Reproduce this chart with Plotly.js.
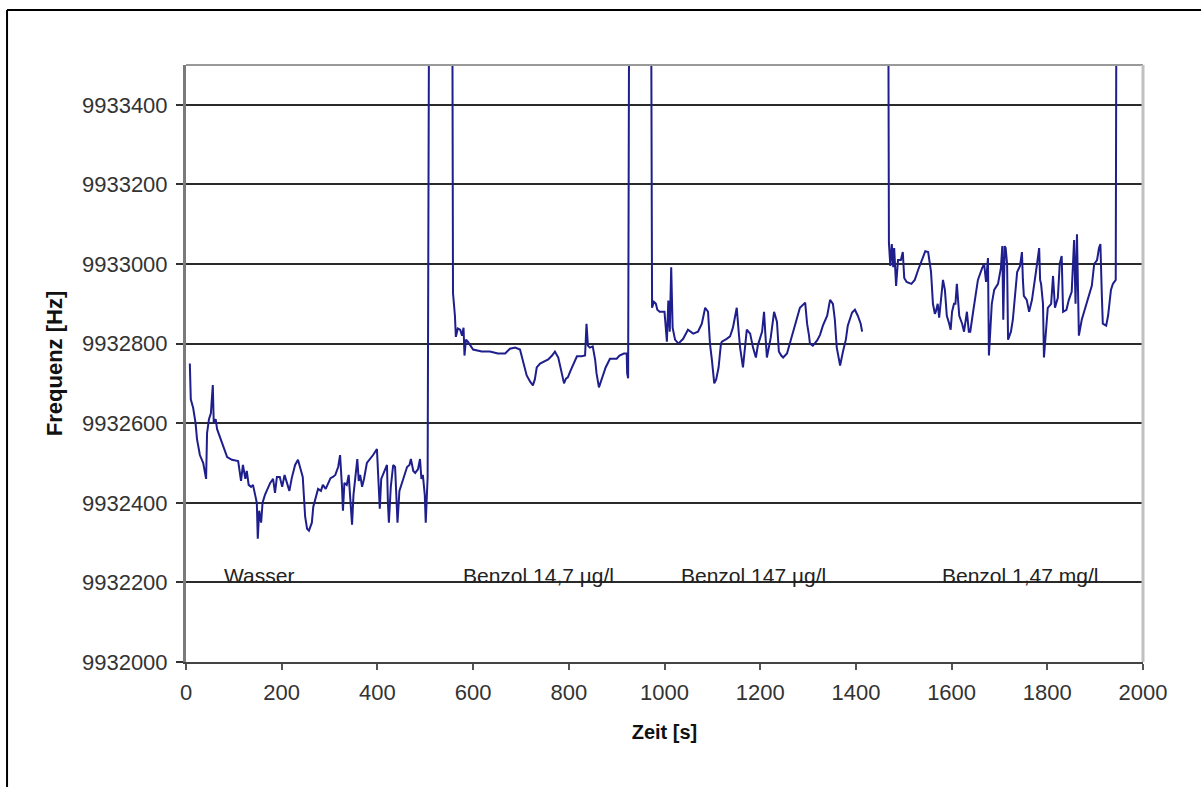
<!DOCTYPE html>
<html>
<head>
<meta charset="utf-8">
<script src="https://cdn.plot.ly/plotly-3.0.1.min.js"></script>
<style>
  html, body { margin: 0; padding: 0; background: #ffffff; }
  #chart { width: 1201px; height: 787px; }
</style>
</head>
<body>
<div id="chart"></div>
<script>
// ---- Data ----
// Segment 1: Wasser
const zeitWasser = [8, 10, 15, 20, 23, 29, 36, 42, 44, 48, 52, 56, 58, 62, 65, 71, 77, 86, 96, 109, 115, 119, 124, 127, 131, 136, 140, 148, 150, 153, 157, 160, 165, 172, 176, 182, 186, 190, 196, 201, 206, 211, 216, 221, 228, 234, 240, 244, 249, 253, 257, 263, 266, 270, 276, 282, 286, 292, 297, 302, 307, 312, 318, 322, 326, 328, 331, 336, 340, 344, 347, 350, 353, 358, 361, 364, 368, 372, 378, 385, 391, 399, 403, 405, 408, 414, 420, 422, 424, 428, 433, 437, 440, 442, 446, 451, 456, 462, 467, 470, 475, 479, 485, 489, 492, 495, 499, 501, 505, 510];
const freqWasser = [9932750, 9932660, 9932638, 9932600, 9932560, 9932520, 9932500, 9932460, 9932575, 9932610, 9932625, 9932696, 9932600, 9932610, 9932585, 9932565, 9932545, 9932515, 9932508, 9932505, 9932455, 9932495, 9932460, 9932480, 9932445, 9932440, 9932445, 9932400, 9932310, 9932380, 9932350, 9932400, 9932420, 9932440, 9932450, 9932460, 9932425, 9932465, 9932465, 9932440, 9932470, 9932450, 9932430, 9932462, 9932495, 9932508, 9932480, 9932465, 9932365, 9932335, 9932330, 9932350, 9932390, 9932410, 9932435, 9932430, 9932445, 9932435, 9932450, 9932462, 9932465, 9932470, 9932490, 9932520, 9932440, 9932380, 9932450, 9932445, 9932470, 9932400, 9932345, 9932420, 9932450, 9932510, 9932455, 9932470, 9932440, 9932460, 9932500, 9932510, 9932520, 9932535, 9932440, 9932385, 9932460, 9932480, 9932495, 9932400, 9932350, 9932440, 9932495, 9932490, 9932400, 9932350, 9932430, 9932450, 9932470, 9932490, 9932495, 9932510, 9932480, 9932475, 9932485, 9932510, 9932460, 9932470, 9932420, 9932350, 9932465, 9934500];

// Segment 2: Benzol 14,7 µg/l
const zeitBenzol1 = [555, 558, 562, 564, 568, 573, 577, 580, 582, 585, 589, 600, 618, 635, 652, 667, 677, 688, 698, 705, 712, 719, 725, 729, 733, 740, 750, 757, 765, 771, 778, 782, 785, 790, 794, 798, 803, 808, 817, 827, 834, 837, 840, 844, 850, 855, 858, 863, 866, 870, 877, 886, 900, 906, 915, 921, 922, 924, 928];
const freqBenzol1 = [9934500, 9932927, 9932870, 9932817, 9932838, 9932835, 9932820, 9932840, 9932770, 9932810, 9932805, 9932785, 9932780, 9932780, 9932775, 9932775, 9932787, 9932790, 9932785, 9932750, 9932720, 9932705, 9932695, 9932710, 9932740, 9932750, 9932755, 9932760, 9932770, 9932780, 9932765, 9932740, 9932730, 9932700, 9932712, 9932715, 9932730, 9932745, 9932768, 9932768, 9932770, 9932850, 9932795, 9932790, 9932793, 9932760, 9932725, 9932690, 9932700, 9932715, 9932740, 9932762, 9932762, 9932770, 9932775, 9932775, 9932725, 9932713, 9934500];

// Segment 3: Benzol 147 µg/l
const zeitBenzol2 = [970, 974, 978, 982, 985, 990, 1000, 1005, 1008, 1011, 1014, 1017, 1022, 1029, 1039, 1049, 1060, 1070, 1078, 1085, 1091, 1095, 1099, 1104, 1108, 1113, 1118, 1120, 1130, 1137, 1143, 1148, 1151, 1155, 1158, 1164, 1168, 1172, 1179, 1185, 1191, 1195, 1204, 1208, 1211, 1214, 1222, 1229, 1235, 1239, 1244, 1248, 1256, 1262, 1268, 1275, 1283, 1294, 1298, 1302, 1304, 1310, 1319, 1325, 1331, 1340, 1346, 1352, 1356, 1360, 1364, 1367, 1373, 1379, 1383, 1392, 1398, 1404, 1410, 1413];
const freqBenzol2 = [9934500, 9932890, 9932905, 9932900, 9932885, 9932880, 9932880, 9932805, 9932908, 9932830, 9932992, 9932840, 9932810, 9932800, 9932812, 9932835, 9932825, 9932830, 9932850, 9932890, 9932880, 9932800, 9932760, 9932700, 9932710, 9932740, 9932800, 9932805, 9932812, 9932818, 9932840, 9932870, 9932890, 9932830, 9932790, 9932740, 9932790, 9932835, 9932825, 9932790, 9932765, 9932795, 9932830, 9932880, 9932820, 9932765, 9932815, 9932880, 9932855, 9932780, 9932770, 9932765, 9932775, 9932800, 9932830, 9932860, 9932890, 9932903, 9932850, 9932820, 9932800, 9932795, 9932808, 9932822, 9932845, 9932870, 9932910, 9932900, 9932860, 9932790, 9932760, 9932745, 9932780, 9932810, 9932845, 9932878, 9932885, 9932870, 9932850, 9932830];

// Segment 4: Benzol 1,47 mg/l
const zeitBenzol3 = [1466, 1469, 1472, 1475, 1478, 1480, 1484, 1488, 1494, 1498, 1501, 1506, 1516, 1523, 1530, 1538, 1545, 1551, 1557, 1561, 1565, 1567, 1571, 1574, 1578, 1582, 1586, 1590, 1595, 1598, 1601, 1605, 1608, 1611, 1616, 1622, 1626, 1632, 1636, 1639, 1645, 1651, 1655, 1664, 1668, 1672, 1676, 1678, 1681, 1684, 1689, 1697, 1703, 1706, 1708, 1711, 1713, 1716, 1718, 1724, 1728, 1733, 1737, 1743, 1747, 1749, 1751, 1757, 1762, 1768, 1772, 1778, 1783, 1785, 1787, 1791, 1793, 1797, 1801, 1808, 1812, 1816, 1822, 1826, 1830, 1833, 1840, 1845, 1851, 1856, 1859, 1862, 1864, 1866, 1872, 1877, 1883, 1887, 1893, 1898, 1904, 1908, 1911, 1914, 1916, 1923, 1927, 1933, 1937, 1943, 1946];
const freqBenzol3 = [9934500, 9933053, 9932995, 9933050, 9932992, 9933040, 9932945, 9933010, 9933010, 9933030, 9932965, 9932955, 9932950, 9932960, 9932985, 9933010, 9933032, 9933030, 9932980, 9932900, 9932875, 9932880, 9932900, 9932865, 9932910, 9932960, 9932935, 9932870, 9932850, 9932835, 9932880, 9932900, 9932900, 9932950, 9932870, 9932850, 9932830, 9932880, 9932830, 9932830, 9932880, 9932925, 9932960, 9932990, 9933000, 9932955, 9933015, 9932770, 9932830, 9932900, 9932935, 9932950, 9932990, 9933045, 9932860, 9933045, 9933040, 9933000, 9932810, 9932830, 9932860, 9932920, 9932980, 9932995, 9933030, 9932960, 9932920, 9932910, 9932880, 9932910, 9932950, 9932995, 9933040, 9932960, 9932950, 9932900, 9932765, 9932820, 9932890, 9932900, 9932970, 9932890, 9932915, 9933000, 9933020, 9932880, 9932885, 9932910, 9932930, 9933060, 9932900, 9933075, 9932900, 9932820, 9932860, 9932880, 9932900, 9932920, 9932945, 9933000, 9933010, 9933040, 9933050, 9932920, 9932850, 9932845, 9932870, 9932935, 9932950, 9932960, 9934500];

// Labels written inside the plot
const labelTexts = ['Wasser', 'Benzol 14,7 µg/l', 'Benzol 147 µg/l', 'Benzol 1,47 mg/l'];
const labelZeit = [75, 575, 1030, 1576];
const labelFreq = [9932218, 9932218, 9932218, 9932218];

const xTickVals = [0, 200, 400, 600, 800, 1000, 1200, 1400, 1600, 1800, 2000];
const yTickVals = [9932000, 9932200, 9932400, 9932600, 9932800, 9933000, 9933200, 9933400];

// ---- Chart ----
const lineColor = '#1e1e8c';
const segs = [[zeitWasser, freqWasser], [zeitBenzol1, freqBenzol1], [zeitBenzol2, freqBenzol2], [zeitBenzol3, freqBenzol3]];
const traces = segs.map(s => ({
  x: s[0], y: s[1], type: 'scatter', mode: 'lines',
  line: { color: lineColor, width: 2 }, showlegend: false, hoverinfo: 'skip'
}));

const fontFam = '"Liberation Sans", Arial, sans-serif';

const annotations = labelTexts.map((t, i) => ({
  x: labelZeit[i], y: labelFreq[i], xref: 'x', yref: 'y',
  text: t, showarrow: false, xanchor: 'left', yanchor: 'middle',
  font: { family: fontFam, size: 21, color: '#222' }
}));

const layout = {
  width: 1201, height: 787,
  margin: { l: 186, r: 58, t: 65, b: 125, pad: 0 },
  paper_bgcolor: '#ffffff', plot_bgcolor: '#ffffff',
  xaxis: {
    range: [0, 2000], tickvals: xTickVals, ticktext: xTickVals.map(String),
    ticks: 'outside', ticklen: 6, tickwidth: 2, tickcolor: '#555',
    showline: true, linecolor: '#444', linewidth: 2,
    showgrid: false, zeroline: false,
    tickfont: { family: fontFam, size: 22, color: '#333' },
    ticklabelstandoff: 4,
    title: { text: 'Zeit [s]', font: { family: fontFam, size: 20, color: '#111', weight: 'bold' }, standoff: 21 },
    fixedrange: true
  },
  yaxis: {
    range: [9932000, 9933500], tickvals: yTickVals, ticktext: yTickVals.map(String),
    ticks: 'outside', ticklen: 7, tickwidth: 2, tickcolor: '#333',
    showline: true, linecolor: '#7a7a7a', linewidth: 3,
    showgrid: true, gridcolor: '#2a2a2a', gridwidth: 2, zeroline: false,
    tickfont: { family: fontFam, size: 22, color: '#333' },
    ticklabelstandoff: 4,
    title: { text: 'Frequenz [Hz]', font: { family: fontFam, size: 22, color: '#111', weight: 'bold' }, standoff: 14 },
    fixedrange: true
  },
  annotations: annotations,
  shapes: [
    { type: 'line', xref: 'paper', yref: 'paper', x0: 0, x1: 1, y0: 1, y1: 1, line: { color: '#999', width: 2 } },
    { type: 'line', xref: 'paper', yref: 'paper', x0: 1, x1: 1, y0: 0, y1: 1, line: { color: '#c0c0c0', width: 3 } },
    { type: 'line', xref: 'paper', yref: 'paper', x0: -0.1870, x1: -0.1870, y0: 1.0921, y1: -0.2094, line: { color: '#000', width: 2 } },
    { type: 'line', xref: 'paper', yref: 'paper', x0: -0.1870, x1: 1.0606, y0: 1.0921, y1: 1.0921, line: { color: '#000', width: 2 } }
  ]
};

Plotly.newPlot('chart', traces, layout, { displayModeBar: false, staticPlot: true });
</script>
</body>
</html>
